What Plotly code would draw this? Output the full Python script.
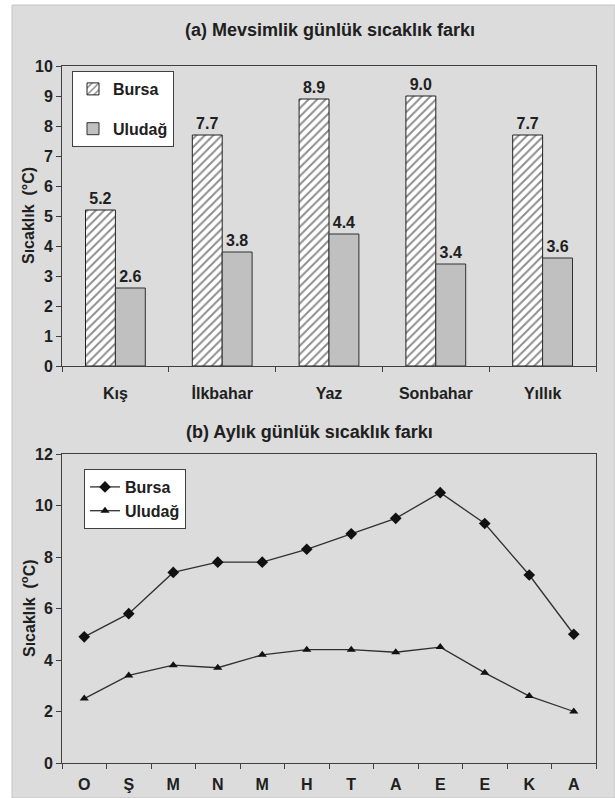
import plotly.graph_objects as go

# ---- data ----
seasons = ["Kış", "İlkbahar", "Yaz", "Sonbahar", "Yıllık"]
bursa_season = [5.2, 7.7, 8.9, 9.0, 7.7]
uludag_season = [2.6, 3.8, 4.4, 3.4, 3.6]

months = ["O", "Ş", "M", "N", "M", "H", "T", "A", "E", "E", "K", "A"]
bursa_month = [4.9, 5.8, 7.4, 7.8, 7.8, 8.3, 8.9, 9.5, 10.5, 9.3, 7.3, 5.0]
uludag_month = [2.5, 3.4, 3.8, 3.7, 4.2, 4.4, 4.4, 4.3, 4.5, 3.5, 2.6, 2.0]

W, H = 615, 798
FONT = "Liberation Sans, Arial, sans-serif"
AX = "#404040"
TXT = "#202020"

def px(x):
    return x / W

def py(y):
    return 1 - y / H

fig = go.Figure()

fig.add_trace(go.Bar(
    x=seasons, y=bursa_season, name="Bursa", legendgroup="a1", legend="legend",
    marker=dict(color="white", line=dict(color="#202020", width=1),
                pattern=dict(shape="/", fgcolor="#1a1a1a", bgcolor="white", size=6,
                             solidity=0.32, fillmode="overlay")),
    texttemplate="%{y:.1f}", textposition="outside", cliponaxis=False,
    textfont=dict(family=FONT, size=16, color=TXT, weight="bold"),
    xaxis="x", yaxis="y",
))
fig.add_trace(go.Bar(
    x=seasons, y=uludag_season, name="Uludağ", legendgroup="a2", legend="legend",
    marker=dict(color="#c0c0c0", line=dict(color="#303030", width=1)),
    texttemplate="%{y:.1f}", textposition="outside", cliponaxis=False,
    textfont=dict(family=FONT, size=16, color=TXT, weight="bold"),
    xaxis="x", yaxis="y",
))

xi = list(range(len(months)))
fig.add_trace(go.Scatter(
    x=xi, y=bursa_month, name="Bursa", mode="lines+markers", legend="legend2",
    line=dict(color="#303030", width=1.3),
    marker=dict(symbol="diamond", size=9, color="#111111"),
    xaxis="x2", yaxis="y2",
))
fig.add_trace(go.Scatter(
    x=xi, y=uludag_month, name="Uludağ", mode="lines+markers", legend="legend2",
    line=dict(color="#303030", width=1.3),
    marker=dict(symbol="triangle-up", size=8, color="#111111"),
    xaxis="x2", yaxis="y2",
))

tickfont = dict(family=FONT, size=16, color=TXT, weight="bold")
axcommon = dict(showline=True, linecolor=AX, linewidth=1, mirror=True,
                showgrid=False, zeroline=False, ticks="outside", ticklen=5,
                tickcolor=AX, tickwidth=1, tickfont=tickfont, automargin=False)

fig.update_layout(
    template="none",
    width=W, height=H, autosize=False,
    margin=dict(l=0, r=0, t=0, b=0, pad=0, autoexpand=False),
    paper_bgcolor="white", plot_bgcolor="white",
    font=dict(family=FONT, color=TXT),
    barmode="group", bargap=0.44, bargroupgap=0,
    showlegend=True,
    xaxis=dict(domain=[px(62), px(596)], anchor="y", type="category",
               tickson="boundaries", ticklabelstandoff=13, **axcommon),
    yaxis=dict(domain=[py(366), py(66)], anchor="x", range=[0, 10], dtick=1, **axcommon),
    xaxis2=dict(domain=[px(62), px(596)], anchor="y2", range=[-0.5, 11.5],
                tickvals=xi, ticktext=months, ticklabelstandoff=7,
                **{**axcommon, "ticks": ""},
                minor=dict(tickvals=[i - 0.5 for i in range(len(months) + 1)],
                           ticks="outside", ticklen=5, tickcolor=AX, showgrid=False)),
    yaxis2=dict(domain=[py(763), py(454)], anchor="x2", range=[0, 12], dtick=2, **axcommon),
    legend=dict(x=px(72), y=py(71), xanchor="left", yanchor="top",
                bgcolor="white", bordercolor=AX, borderwidth=1,
                font=dict(family=FONT, size=16, color=TXT, weight="bold"),
                tracegroupgap=16, itemwidth=30),
    legend2=dict(x=px(84), y=py(469), xanchor="left", yanchor="top",
                 bgcolor="white", bordercolor=AX, borderwidth=1,
                 font=dict(family=FONT, size=16, color=TXT, weight="bold"),
                 tracegroupgap=0, itemwidth=30),
    shapes=[dict(type="rect", xref="paper", yref="paper",
                 x0=px(12), x1=1.0, y0=0, y1=py(5),
                 fillcolor="#dcdcdc", line=dict(color="#c4c4c4", width=1),
                 layer="below")],
    annotations=[
        dict(text="(a) Mevsimlik günlük sıcaklık farkı", x=px(330), y=py(30),
             xref="paper", yref="paper", showarrow=False,
             xanchor="center", yanchor="middle",
             font=dict(family=FONT, size=18, color=TXT, weight="bold")),
        dict(text="(b) Aylık günlük sıcaklık farkı", x=px(309), y=py(432),
             xref="paper", yref="paper", showarrow=False,
             xanchor="center", yanchor="middle",
             font=dict(family=FONT, size=18, color=TXT, weight="bold")),
        dict(text="Sıcaklık  (°C)", x=px(28), y=py(216), textangle=-90,
             xref="paper", yref="paper", showarrow=False,
             xanchor="center", yanchor="middle",
             font=dict(family=FONT, size=16, color=TXT, weight="bold")),
        dict(text="Sıcaklık  (<sup>o</sup>C)", x=px(28), y=py(608), textangle=-90,
             xref="paper", yref="paper", showarrow=False,
             xanchor="center", yanchor="middle",
             font=dict(family=FONT, size=16, color=TXT, weight="bold")),
    ],
)

fig.write_html("out.html", config={"displayModeBar": False},
               post_script="document.body.style.margin='0';")
